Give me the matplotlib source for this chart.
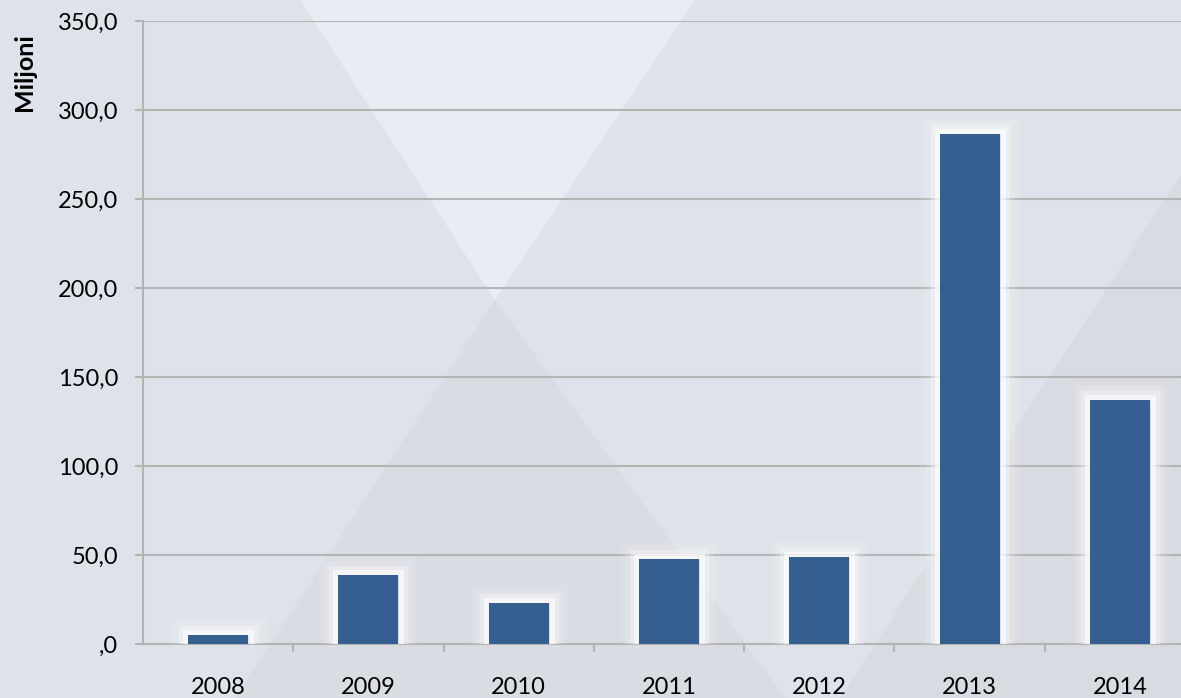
import matplotlib

matplotlib.use("Agg")
import matplotlib.pyplot as plt
import matplotlib.patheffects as pe
from matplotlib.patches import Polygon
from matplotlib.ticker import FixedLocator, FuncFormatter

plt.rcParams["font.family"] = ["Lato", "DejaVu Sans"]

years = ["2008", "2009", "2010", "2011", "2012", "2013", "2014"]
values = [5.0, 38.8, 23.0, 47.6, 48.9, 286.5, 137.0]
y_ticks = [0, 50, 100, 150, 200, 250, 300, 350]

BAR = "#365f91"
GRID = "#b4b4b4"
W, H = 1181, 698


def fmt(v, _pos):
    s = f"{v:.1f}".replace(".", ",")
    return s[1:] if s.startswith("0,") else s


fig = plt.figure(figsize=(W / 100, H / 100), dpi=100)
fig.patch.set_facecolor("#dee2ea")


def shape(points, color):
    # points in pixel coords, y from the top
    pts = [(x / W, 1 - y / H) for x, y in points]
    fig.patches.append(Polygon(pts, closed=True, transform=fig.transFigure,
                               facecolor=color, edgecolor="none", zorder=-5))


# decorative background like the slide template
shape([(300, 0), (695, 0), (495, 300)], "#e9ecf3")
shape([(495, 300), (235, 698), (785, 698)], "#d9dce2")
shape([(1181, 175), (1181, 698), (840, 698)], "#d8dbe1")

ax = fig.add_axes([143 / W, 1 - 644 / H, 1052 / W, 623 / H], zorder=2)
ax.patch.set_alpha(0)

x = range(len(years))
bars = ax.bar(x, values, width=0.4, color=BAR, zorder=3)
glow = [
    pe.Stroke(linewidth=28, foreground="white", alpha=0.08),
    pe.Stroke(linewidth=21, foreground="white", alpha=0.15),
    pe.Stroke(linewidth=14, foreground="white", alpha=0.3),
    pe.Stroke(linewidth=8, foreground="white", alpha=0.6),
    pe.Normal(),
]
for b in bars:
    b.set_path_effects(glow)

ax.set_xlim(-0.5, len(years) - 0.5)
ax.set_ylim(0, 350)
ax.yaxis.set_major_locator(FixedLocator(y_ticks))
ax.yaxis.set_major_formatter(FuncFormatter(fmt))
ax.grid(axis="y", color=GRID, linewidth=1.5, zorder=1)
ax.set_axisbelow(True)

ax.set_xticks(list(x))
ax.set_xticklabels(years)
ax.set_xticks([i + 0.5 for i in range(len(years))], minor=True)
ax.tick_params(axis="x", which="major", length=0, pad=24, labelsize=17)
ax.tick_params(axis="x", which="minor", length=6, width=1.5, color=GRID, direction="out")
ax.tick_params(axis="y", length=6, width=1.5, color=GRID, pad=12, labelsize=17)

for side in ["top", "right"]:
    ax.spines[side].set_visible(False)
for side in ["left", "bottom"]:
    ax.spines[side].set_color(GRID)
    ax.spines[side].set_linewidth(1.5)

fig.text(25 / W, 1 - 72 / H, "Miljoni", rotation=90, ha="center", va="center",
         fontsize=18, fontweight="bold")

fig.savefig("out.png", dpi=100)
